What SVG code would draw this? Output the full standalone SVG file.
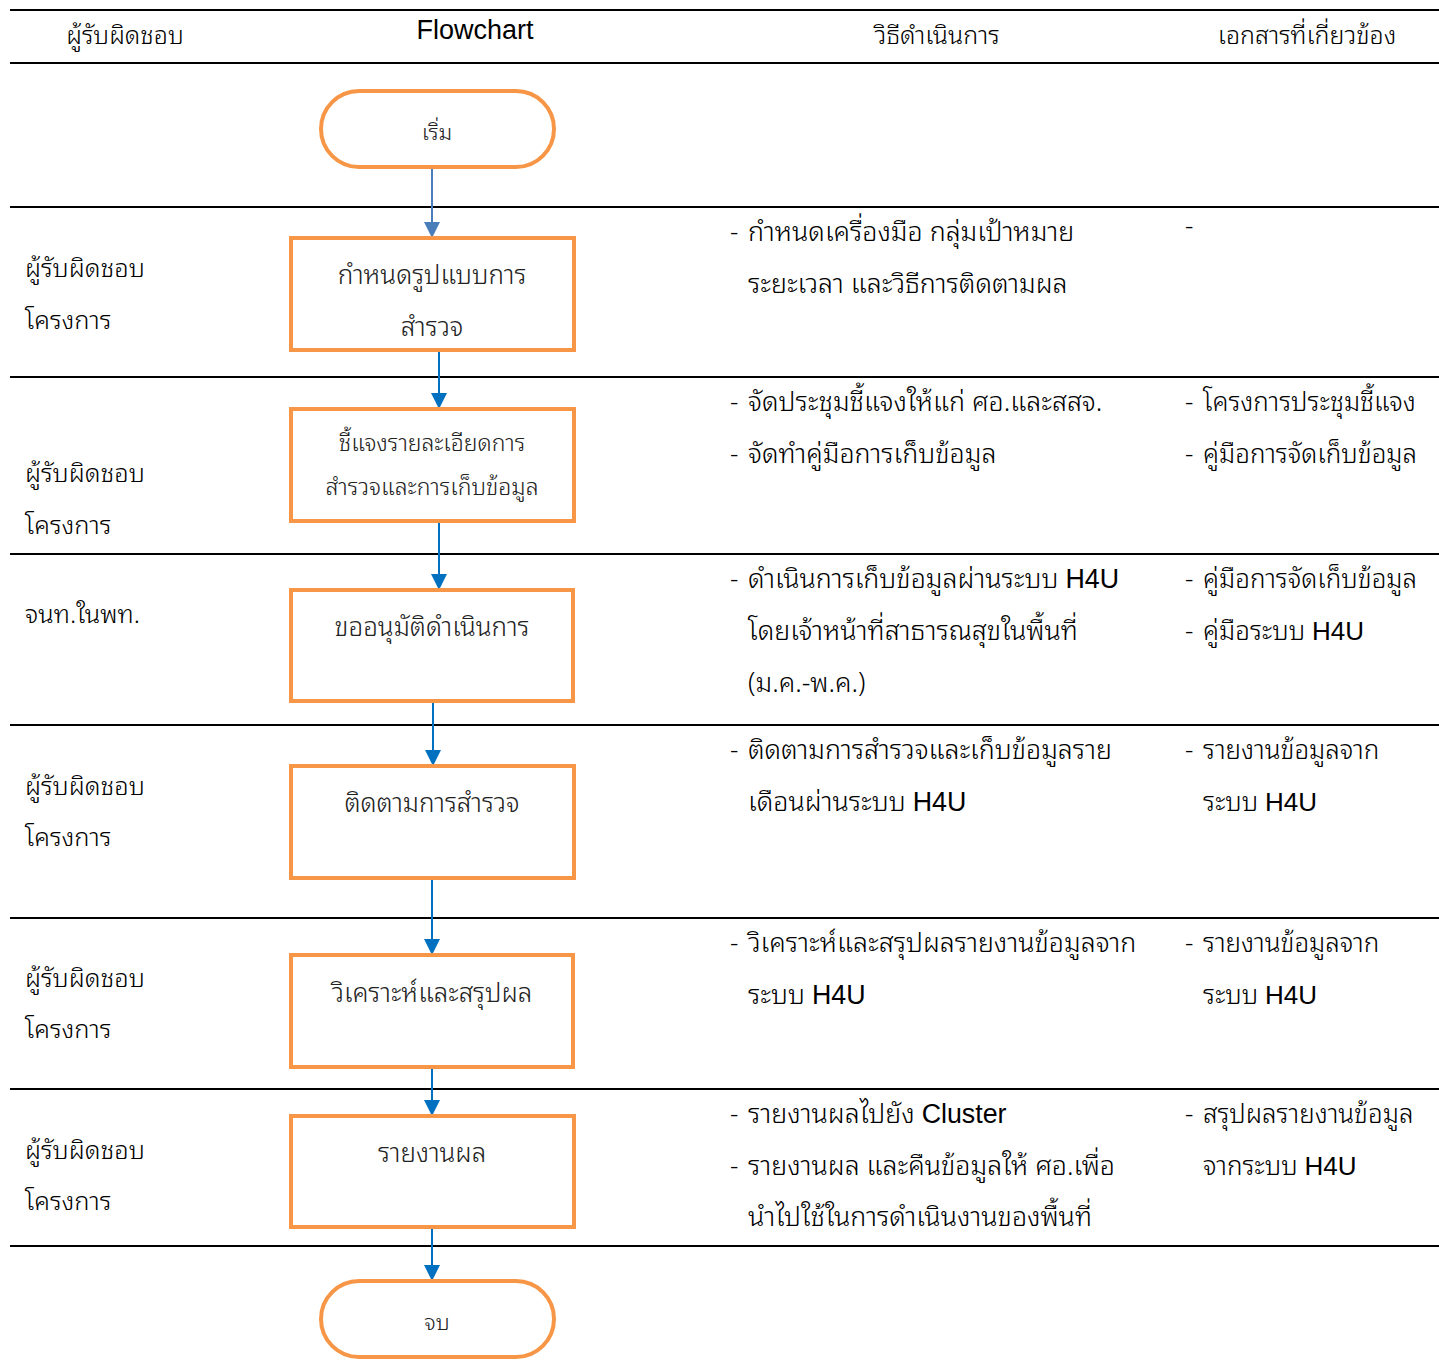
<svg xmlns="http://www.w3.org/2000/svg" width="1439" height="1370" viewBox="0 0 1439 1370">
<defs>
<marker id="arrow" markerWidth="16" markerHeight="16" refX="16" refY="8" orient="auto" markerUnits="userSpaceOnUse">
<path d="M0,0 L16,8 L0,16 Z" fill="#0070C0"/>
</marker>
<marker id="arrow0" markerWidth="16" markerHeight="16" refX="16" refY="8" orient="auto" markerUnits="userSpaceOnUse">
<path d="M0,0 L16,8 L0,16 Z" fill="#4A7EBB"/>
</marker>
</defs>
<style>
.rule{stroke:#000;stroke-width:2.2;fill:none}
.node{fill:#fff;stroke:#F79646;stroke-width:4}
.conn{stroke:#0070C0;stroke-width:2;fill:none;marker-end:url(#arrow)}
.hd{font-family:"Noto Sans Thai Looped","Noto Serif Thai","Loma","Garuda","Norasi","Noto Sans Thai","Liberation Sans",sans-serif;font-size:25px;font-weight:300;fill:#000}
.nt{font-family:"Noto Sans Thai Looped","Loma","Garuda","Noto Sans Thai","Liberation Sans",sans-serif;font-size:26px;font-weight:300;fill:#222;text-anchor:middle}
.tx{font-family:"Noto Sans Thai Looped","Noto Serif Thai","Loma","Garuda","Norasi","Noto Sans Thai","Liberation Sans",sans-serif;font-size:26px;font-weight:300;fill:#000}
.md{font-size:26.8px}
.lc{font-size:25.5px}
.en{font-family:"Liberation Sans","DejaVu Sans",sans-serif;font-weight:400}
</style>
<rect width="1439" height="1370" fill="#fff"/>
<g id="rules">
<line class="rule" x1="10" y1="10" x2="1439" y2="10"/>
<line class="rule" x1="10" y1="63" x2="1439" y2="63"/>
<line class="rule" x1="10" y1="207" x2="1439" y2="207"/>
<line class="rule" x1="10" y1="377" x2="1439" y2="377"/>
<line class="rule" x1="10" y1="554" x2="1439" y2="554"/>
<line class="rule" x1="10" y1="725" x2="1439" y2="725"/>
<line class="rule" x1="10" y1="918" x2="1439" y2="918"/>
<line class="rule" x1="10" y1="1089" x2="1439" y2="1089"/>
<line class="rule" x1="10" y1="1246" x2="1439" y2="1246"/>
</g>
<g id="header">
<text class="hd" x="125" y="44" text-anchor="middle">ผู้รับผิดชอบ</text>
<text class="hd en" x="475" y="39" text-anchor="middle" style="font-size:27px">Flowchart</text>
<text class="hd" x="937" y="44" text-anchor="middle">วิธีดำเนินการ</text>
<text class="hd" x="1307" y="44" text-anchor="middle">เอกสารที่เกี่ยวข้อง</text>
</g>
<g id="connectors">
<line x1="432" y1="167" x2="432" y2="238" stroke="#4A7EBB" stroke-width="2" marker-end="url(#arrow0)"/>
<line class="conn" x1="439" y1="350" x2="439" y2="409"/>
<line class="conn" x1="439" y1="521" x2="439" y2="590"/>
<line class="conn" x1="433" y1="701" x2="433" y2="766"/>
<line class="conn" x1="432" y1="878" x2="432" y2="955"/>
<line class="conn" x1="432" y1="1067" x2="432" y2="1116"/>
<line class="conn" x1="432" y1="1227" x2="432" y2="1281"/>
</g>
<g id="start">
<rect class="node" x="321" y="91" width="233" height="76" rx="38"/>
<text class="nt" x="437" y="140" style="font-size:22px">เริ่ม</text>
</g>
<g id="n1">
<rect class="node" x="291" y="238" width="283" height="112"/>
<text class="nt" x="432" y="284">กำหนดรูปแบบการ</text>
<text class="nt" x="432" y="336">สำรวจ</text>
</g>
<g id="n2">
<rect class="node" x="291" y="409" width="283" height="112"/>
<text class="nt" x="432" y="451" style="font-size:23px">ชี้แจงรายละเอียดการ</text>
<text class="nt" x="432" y="495" style="font-size:23px">สำรวจและการเก็บข้อมูล</text>
</g>
<g id="n3">
<rect class="node" x="291" y="590" width="282" height="111"/>
<text class="nt" x="432" y="636">ขออนุมัติดำเนินการ</text>
</g>
<g id="n4">
<rect class="node" x="291" y="766" width="283" height="112"/>
<text class="nt" x="432" y="812">ติดตามการสำรวจ</text>
</g>
<g id="n5">
<rect class="node" x="291" y="955" width="282" height="112"/>
<text class="nt" x="432" y="1002">วิเคราะห์และสรุปผล</text>
</g>
<g id="n6">
<rect class="node" x="291" y="1116" width="283" height="111"/>
<text class="nt" x="432" y="1162">รายงานผล</text>
</g>
<g id="end">
<rect class="node" x="321" y="1281" width="233" height="76" rx="38"/>
<text class="nt" x="437" y="1330" style="font-size:22px">จบ</text>
</g>
<g id="responsible">
<text class="tx lc" x="25" y="277">ผู้รับผิดชอบ</text>
<text class="tx lc" x="25" y="329">โครงการ</text>
<text class="tx lc" x="25" y="482">ผู้รับผิดชอบ</text>
<text class="tx lc" x="25" y="534">โครงการ</text>
<text class="tx lc" x="25" y="623">จนท.ในพท.</text>
<text class="tx lc" x="25" y="795">ผู้รับผิดชอบ</text>
<text class="tx lc" x="25" y="846">โครงการ</text>
<text class="tx lc" x="25" y="987">ผู้รับผิดชอบ</text>
<text class="tx lc" x="25" y="1038">โครงการ</text>
<text class="tx lc" x="25" y="1159">ผู้รับผิดชอบ</text>
<text class="tx lc" x="25" y="1210">โครงการ</text>
</g>
<g id="methods">
<text class="tx" x="730" y="241">-</text><text class="tx md" x="748" y="241">กำหนดเครื่องมือ กลุ่มเป้าหมาย</text>
<text class="tx md" x="748" y="293">ระยะเวลา และวิธีการติดตามผล</text>
<text class="tx" x="730" y="411">-</text><text class="tx md" x="748" y="411">จัดประชุมชี้แจงให้แก่ ศอ.และสสจ.</text>
<text class="tx" x="730" y="463">-</text><text class="tx md" x="748" y="463">จัดทำคู่มือการเก็บข้อมูล</text>
<text class="tx" x="730" y="588">-</text><text class="tx md" x="748" y="588">ดำเนินการเก็บข้อมูลผ่านระบบ <tspan class="en">H4U</tspan></text>
<text class="tx md" x="748" y="640">โดยเจ้าหน้าที่สาธารณสุขในพื้นที่</text>
<text class="tx md" x="748" y="692">(ม.ค.-พ.ค.)</text>
<text class="tx" x="730" y="759">-</text><text class="tx md" x="748" y="759">ติดตามการสำรวจและเก็บข้อมูลราย</text>
<text class="tx md" x="748" y="811">เดือนผ่านระบบ <tspan class="en">H4U</tspan></text>
<text class="tx" x="730" y="952">-</text><text class="tx md" x="748" y="952">วิเคราะห์และสรุปผลรายงานข้อมูลจาก</text>
<text class="tx md" x="748" y="1004">ระบบ <tspan class="en">H4U</tspan></text>
<text class="tx" x="730" y="1123">-</text><text class="tx md" x="748" y="1123">รายงานผลไปยัง  <tspan class="en">Cluster</tspan></text>
<text class="tx" x="730" y="1175">-</text><text class="tx md" x="748" y="1175">รายงานผล และคืนข้อมูลให้ ศอ.เพื่อ</text>
<text class="tx md" x="748" y="1226">นำไปใช้ในการดำเนินงานของพื้นที่</text>
</g>
<g id="documents">
<text class="tx" x="1185" y="235">-</text>
<text class="tx" x="1185" y="411">-</text><text class="tx" x="1203" y="411">โครงการประชุมชี้แจง</text>
<text class="tx" x="1185" y="463">-</text><text class="tx" x="1203" y="463">คู่มือการจัดเก็บข้อมูล</text>
<text class="tx" x="1185" y="588">-</text><text class="tx" x="1203" y="588">คู่มือการจัดเก็บข้อมูล</text>
<text class="tx" x="1185" y="640">-</text><text class="tx" x="1203" y="640">คู่มือระบบ <tspan class="en">H4U</tspan></text>
<text class="tx" x="1185" y="759">-</text><text class="tx" x="1203" y="759">รายงานข้อมูลจาก</text>
<text class="tx" x="1203" y="811">ระบบ <tspan class="en">H4U</tspan></text>
<text class="tx" x="1185" y="952">-</text><text class="tx" x="1203" y="952">รายงานข้อมูลจาก</text>
<text class="tx" x="1203" y="1004">ระบบ <tspan class="en">H4U</tspan></text>
<text class="tx" x="1185" y="1123">-</text><text class="tx" x="1203" y="1123">สรุปผลรายงานข้อมูล</text>
<text class="tx" x="1203" y="1175">จากระบบ <tspan class="en">H4U</tspan></text>
</g>
</svg>
